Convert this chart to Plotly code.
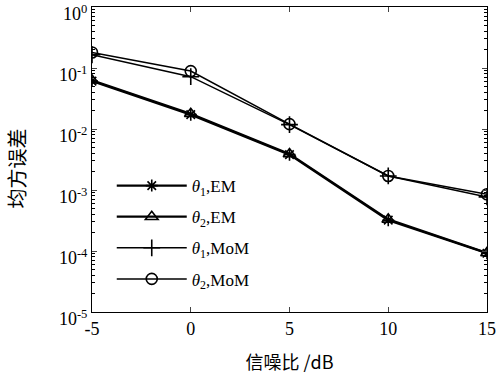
import plotly.graph_objects as go

snr = [-5, 0, 5, 10, 15]
theta1_em = [0.061, 0.0172, 0.0038, 0.00032, 0.000092]
theta2_em = [0.063, 0.0178, 0.0039, 0.00033, 0.000093]
theta1_mom = [0.165, 0.072, 0.0118, 0.0017, 0.00077]
theta2_mom = [0.18, 0.089, 0.012, 0.0017, 0.00085]

ytick_vals = [1e-5, 1e-4, 1e-3, 1e-2, 1e-1, 1]
ytick_text = ["10<sup>-5</sup>", "10<sup>-4</sup>", "10<sup>-3</sup>", "10<sup>-2</sup>", "10<sup>-1</sup>", "10<sup>0</sup>"]
xtick_vals = [-5, 0, 5, 10, 15]
xtick_text = ["-5", "0", "5", "10", "15"]
minor_vals = [m * d for d in [1e-5, 1e-4, 1e-3, 1e-2, 1e-1] for m in range(2, 10)]

series = [
    ("<i>θ</i><sub>1</sub>,EM", theta1_em, "asterisk-open", 2.2, 10),
    ("<i>θ</i><sub>2</sub>,EM", theta2_em, "triangle-up-open", 2.2, 11),
    ("<i>θ</i><sub>1</sub>,MoM", theta1_mom, "cross-thin-open", 1.5, 12),
    ("<i>θ</i><sub>2</sub>,MoM", theta2_mom, "circle-open", 1.5, 11),
]

fig = go.Figure()
for i, (name, vals, sym, lw, ms) in enumerate(series):
    fig.add_trace(go.Scatter(
        x=snr, y=vals, name=name, mode="lines+markers",
        legendgroup=str(i),
        line=dict(color="black", width=lw),
        marker=dict(symbol=sym, size=ms, color="black", line=dict(color="black", width=1.6)),
    ))

font_serif = "Liberation Serif, Times New Roman, serif"
fig.update_layout(
    width=499, height=374,
    margin=dict(l=92, r=12, t=7, b=62, autoexpand=False),
    paper_bgcolor="white", plot_bgcolor="white",
    font=dict(family=font_serif, size=18, color="black"),
    legend=dict(x=0.05, y=0.472, xanchor="left", yanchor="top",
                bgcolor="rgba(0,0,0,0)", itemwidth=70, tracegroupgap=6,
                traceorder="grouped", font=dict(size=17)),
    xaxis=dict(range=[-5, 15], tickvals=xtick_vals, ticktext=xtick_text,
               ticks="inside", ticklen=5, showline=True, linecolor="black",
               linewidth=1, mirror="ticks", showgrid=False, zeroline=False,
               tickfont=dict(size=18), ticklabeloverflow="allow", automargin=False,
               title=dict(text="信噪比 /dB", font=dict(family="Noto Sans CJK SC", size=18), standoff=18)),
    yaxis=dict(type="log", range=[-5, 0], tickvals=ytick_vals, ticktext=ytick_text,
               ticks="inside", ticklen=5, showline=True, linecolor="black",
               linewidth=1, mirror="ticks", showgrid=False, zeroline=False,
               tickfont=dict(size=18), ticklabeloverflow="allow", automargin=False,
               ticklabelshift=7,
               minor=dict(tickvals=minor_vals, ticks="inside", ticklen=3, showgrid=False, tickcolor="black")),
    annotations=[dict(text="均方误差", textangle=-90, xref="paper", yref="paper",
                      x=-0.19, y=0.47, xanchor="center", yanchor="middle", showarrow=False,
                      font=dict(family="Noto Sans CJK SC", size=20))],
)
fig.write_html("out.html", config={"displayModeBar": False},
               post_script="document.body.style.margin='0';document.body.style.overflow='hidden';")
